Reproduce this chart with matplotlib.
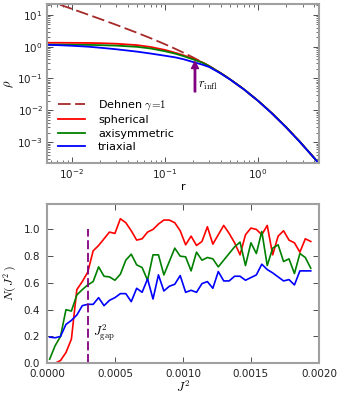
import matplotlib
matplotlib.use('Agg')
import matplotlib.pyplot as plt
import numpy as np

plt.rcParams['mathtext.fontset'] = 'cm'
plt.rcParams['font.size'] = 7
plt.rcParams['xtick.direction'] = 'in'
plt.rcParams['ytick.direction'] = 'in'
plt.rcParams['xtick.top'] = True
plt.rcParams['ytick.right'] = True

# Density profiles
r = [0.005, 0.007, 0.01, 0.015, 0.02, 0.03, 0.05, 0.07, 0.1, 0.13, 0.16,
     0.2, 0.25, 0.3, 0.4, 0.5, 0.7, 1.0, 1.4, 2.0, 2.8, 4.0, 5.0]
rho_dehnen = [31.4, 22.3, 15.45, 10.15, 7.50, 4.86, 2.75, 1.856, 1.196, 0.848, 0.637,
              0.460, 0.326, 0.2415, 0.145, 0.0943, 0.0463, 0.0199, 0.00822, 0.00295,
              0.001036, 0.000318, 0.000147]
rho_sph = [1.33, 1.33, 1.32, 1.31, 1.29, 1.24, 1.12, 0.98, 0.79, 0.64, 0.53,
           0.42, 0.325, 0.245, 0.146, 0.0945, 0.0464, 0.0199, 0.00822, 0.00295,
           0.001036, 0.000318, 0.000147]
rho_axi = [1.16, 1.16, 1.15, 1.14, 1.12, 1.08, 0.99, 0.88, 0.72, 0.60, 0.50,
           0.40, 0.318, 0.242, 0.145, 0.0944, 0.0463, 0.0199, 0.00822, 0.00295,
           0.001036, 0.000318, 0.000147]
rho_tri = [1.15, 1.12, 1.07, 1.00, 0.93, 0.83, 0.70, 0.61, 0.52, 0.46, 0.40,
           0.33, 0.275, 0.228, 0.142, 0.093, 0.046, 0.0197, 0.0081, 0.0029,
           0.00102, 0.000315, 0.000146]
r_infl = 0.21

# Distribution of J^2 (bin centres)
J2 = (np.arange(49) + 0.5) * 4e-5
N_sph = [0.0, 0.0, 0.02, 0.08, 0.18, 0.55, 0.61, 0.68, 0.84, 0.88,
         0.93, 0.98, 0.97, 1.08, 1.05, 0.99, 0.92, 0.93, 0.98, 1.00,
         1.04, 1.07, 1.07, 1.05, 0.99, 0.885, 0.95, 0.88, 0.91, 1.02,
         0.89, 0.96, 1.03, 0.97, 0.90, 0.81, 0.96, 1.01, 1.00, 0.96,
         1.03, 0.81, 0.95, 0.99, 0.92, 0.90, 0.83, 0.93, 0.91]
N_axi = [0.03, 0.13, 0.20, 0.40, 0.39, 0.51, 0.55, 0.585, 0.61, 0.72,
         0.65, 0.645, 0.62, 0.665, 0.77, 0.815, 0.735, 0.715, 0.62, 0.81,
         0.81, 0.66, 0.76, 0.86, 0.80, 0.795, 0.69, 0.83, 0.77, 0.79,
         0.78, 0.72, 0.77, 0.82, 0.87, 0.905, 0.73, 0.90, 0.82, 0.985,
         0.73, 0.86, 0.885, 0.76, 0.78, 0.67, 0.82, 0.79, 0.71]
N_tri = [0.195, 0.19, 0.20, 0.29, 0.32, 0.36, 0.43, 0.44, 0.44, 0.49,
         0.43, 0.47, 0.49, 0.52, 0.52, 0.46, 0.56, 0.53, 0.63, 0.48,
         0.66, 0.54, 0.575, 0.59, 0.655, 0.53, 0.545, 0.53, 0.595, 0.61,
         0.56, 0.685, 0.615, 0.615, 0.65, 0.65, 0.62, 0.64, 0.66, 0.74,
         0.70, 0.675, 0.645, 0.615, 0.625, 0.585, 0.69, 0.69, 0.69]
J2_gap = 0.0003

spine_col = '#a0a0a0'

fig = plt.figure(figsize=(3.4, 4.0), dpi=100)
ax1 = fig.add_axes([0.138, 0.5925, 0.8, 0.3975])
ax2 = fig.add_axes([0.138, 0.092, 0.8, 0.398])

for ax in (ax1, ax2):
    for s in ax.spines.values():
        s.set_color(spine_col)
        s.set_linewidth(1.5)
    ax.tick_params(which='major', length=4, width=0.6, color='#333333', pad=3,
                   labelsize=7.5, labelcolor='#222222')
    ax.tick_params(which='minor', length=2, width=0.5, color='#333333')

# top panel
ax1.plot(r, rho_dehnen, color='#a52a2a', lw=1.3, dashes=(7, 2.5), label=r'Dehnen $\gamma\!=\!1$')
ax1.plot(r, rho_sph, color='red', lw=1.3, label='spherical')
ax1.plot(r, rho_axi, color='green', lw=1.3, label='axisymmetric')
ax1.plot(r, rho_tri, color='blue', lw=1.3, label='triaxial')
ax1.set_xscale('log')
ax1.set_yscale('log')
ax1.set_xlim(0.0054, 4.5)
ax1.set_ylim(2.2e-4, 22)
ax1.annotate('', xy=(r_infl, 0.34), xytext=(r_infl, 0.038),
             arrowprops=dict(color='purple', width=1.0, headwidth=5, headlength=5, shrink=0))
ax1.text(0.225, 0.06, r'$r_{\rm infl}$', fontsize=9, va='center', ha='left')
ax1.set_xlabel('r', fontsize=8, labelpad=1)
ax1.set_ylabel(r'$\rho$', fontsize=9, labelpad=1)
ax1.legend(loc='lower left', frameon=False, fontsize=8, handlelength=2.4,
           handletextpad=1.2, labelspacing=0.3, borderaxespad=0.6)

# bottom panel
ax2.plot(J2, N_sph, color='red', lw=1.2)
ax2.plot(J2, N_axi, color='green', lw=1.2)
ax2.plot(J2, N_tri, color='blue', lw=1.2)
ax2.plot([J2_gap, J2_gap], [0, 1.0], color='purple', lw=1.3, dashes=(5, 2))
ax2.text(0.00034, 0.23, r'$J^2_{\rm gap}$', fontsize=9, va='center', ha='left')
ax2.set_xlim(0, 0.002)
ax2.set_ylim(0, 1.19)
ax2.set_xticks([0, 0.0005, 0.001, 0.0015, 0.002])
ax2.set_xticklabels(['0.0000', '0.0005', '0.0010', '0.0015', '0.0020'])
ax2.set_yticks([0, 0.2, 0.4, 0.6, 0.8, 1.0])
ax2.set_yticklabels(['0.0', '0.2', '0.4', '0.6', '0.8', '1.0'])
ax2.tick_params(axis='y', pad=5)
ax2.tick_params(axis='x', pad=4.5)
ax2.set_xlabel(r'$J^2$', fontsize=9, labelpad=0)
ax2.set_ylabel(r'$N(\,J^2\,)$', fontsize=8.5, labelpad=3)

fig.savefig('out.png', dpi=100)
